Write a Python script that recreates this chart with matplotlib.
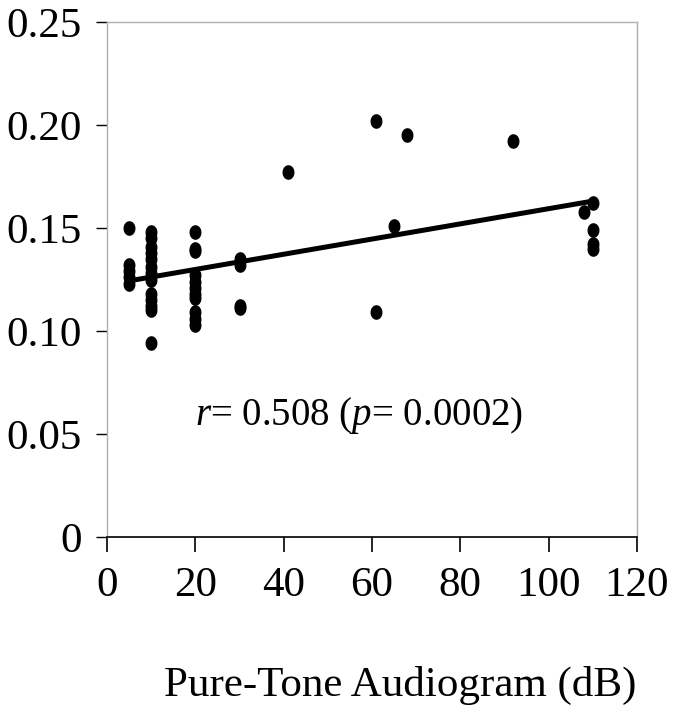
import numpy as np
import matplotlib
matplotlib.use('Agg')
import matplotlib.pyplot as plt
from matplotlib.path import Path

plt.rcParams['font.family'] = ['Liberation Serif', 'DejaVu Serif']
plt.rcParams['mathtext.fontset'] = 'custom'
plt.rcParams['mathtext.rm'] = 'Liberation Serif'
plt.rcParams['mathtext.it'] = 'Liberation Serif:italic'

# audiogram (dB) vs value
x_5 = [5, 5, 5, 5, 5]
y_5 = [0.150, 0.132, 0.129, 0.126, 0.123]
x_10 = [10] * 13
y_10 = [0.148, 0.145, 0.141, 0.138, 0.135, 0.131, 0.128, 0.125,
        0.118, 0.115, 0.112, 0.110, 0.094]
x_20 = [20] * 11
y_20 = [0.148, 0.140, 0.139, 0.127, 0.124, 0.121, 0.118, 0.116,
        0.109, 0.106, 0.103]
x_30 = [30, 30, 30, 30]
y_30 = [0.135, 0.132, 0.112, 0.111]
x_high = [41, 61, 61, 65, 68, 92, 108, 110, 110, 110, 110]
y_high = [0.177, 0.202, 0.109, 0.151, 0.195, 0.192, 0.158, 0.162,
          0.149, 0.142, 0.140]

xs = np.array(x_5 + x_10 + x_20 + x_30 + x_high, dtype=float)
ys = np.array(y_5 + y_10 + y_20 + y_30 + y_high)

label_r = r'$r$= 0.508 ($p$= 0.0002)'

# fitted trend line
slope, icpt = np.polyfit(xs, ys, 1)
line_x = np.array([xs.min(), xs.max()])
line_y = slope * line_x + icpt

# slightly tall ellipse marker
t = np.linspace(0, 2 * np.pi, 40)
ell = Path(np.column_stack([0.8 * np.cos(t), np.sin(t)]))

fig = plt.figure(figsize=(6.79, 7.07), dpi=100)
ax = fig.add_axes([107 / 679, 1 - 537 / 707, 530 / 679, 515 / 707])

ax.plot(xs, ys, linestyle='none', marker=ell, markersize=9.5,
        color='black', zorder=3)
ax.plot(line_x, line_y, color='black', linewidth=3.6, zorder=2)

ax.set_xlim(0, 120)
ax.set_ylim(0, 0.25)
ax.set_xticks(np.arange(0, 121, 20))
ax.set_yticks([0, 0.05, 0.10, 0.15, 0.20, 0.25])
ax.set_yticklabels(['0', '0.05', '0.10', '0.15', '0.20', '0.25'])

for s in ['left', 'top', 'right']:
    ax.spines[s].set_color('#b0b0b0')
    ax.spines[s].set_linewidth(1)
ax.spines['bottom'].set_color('black')
ax.spines['bottom'].set_linewidth(1.2)

ax.tick_params(axis='x', direction='out', length=11, width=1.2,
               pad=10, labelsize=31)
ax.tick_params(axis='y', direction='out', length=8, width=1,
               pad=10, labelsize=31)

ax.text(57, 0.059, label_r, ha='center', va='center', fontsize=28)
fig.text(400 / 679, 1 - 685 / 707, 'Pure-Tone Audiogram (dB)',
         ha='center', va='center', fontsize=31)

fig.savefig('out.png', dpi=100)
